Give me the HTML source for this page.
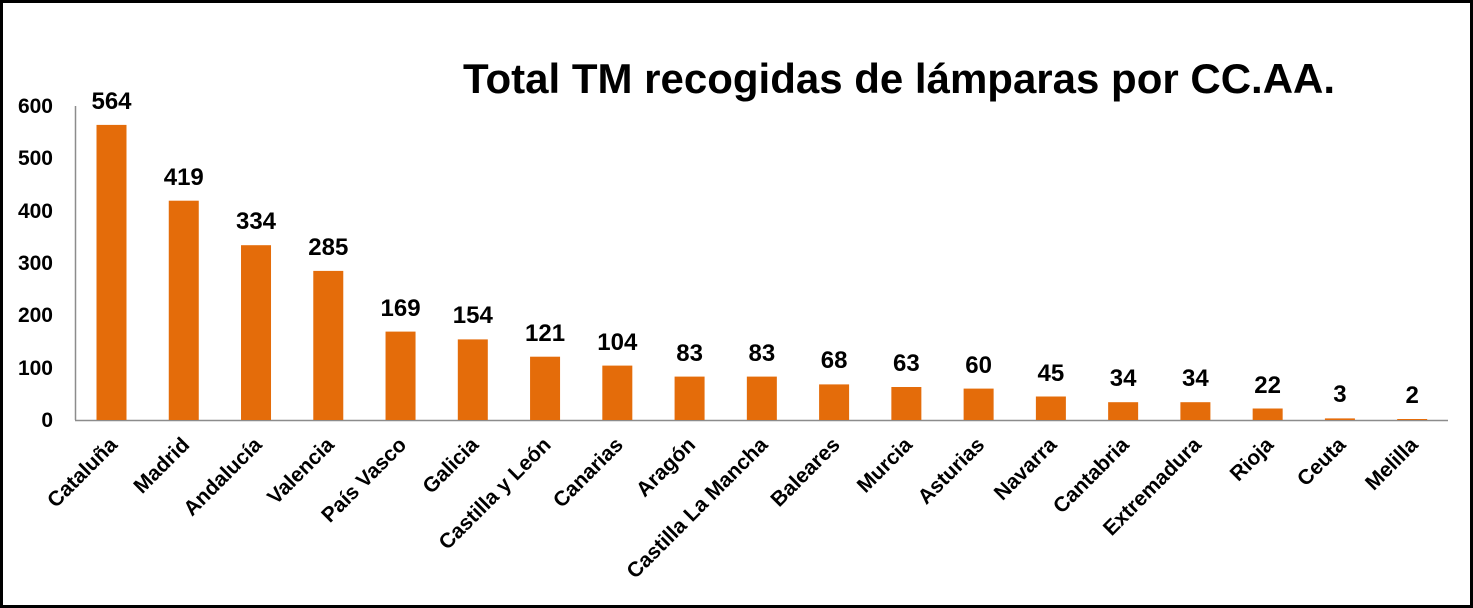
<!DOCTYPE html>
<html><head><meta charset="utf-8"><style>
html,body{margin:0;padding:0;background:#fff;}
svg{display:block;}
text{font-family:"Liberation Sans",sans-serif;font-weight:bold;}
</style></head><body>
<svg width="1473" height="608" viewBox="0 0 1473 608" xmlns="http://www.w3.org/2000/svg">
<rect x="1.5" y="1.5" width="1470" height="605" fill="#fff" stroke="#000" stroke-width="3"/>
<text x="899" y="93" font-size="42" text-anchor="middle" fill="#000">Total TM recogidas de lámparas por CC.AA.</text>
<line x1="75.5" y1="106" x2="75.5" y2="420" stroke="#8c8c8c" stroke-width="1.5"/>
<line x1="75" y1="420.5" x2="1448" y2="420.5" stroke="#8c8c8c" stroke-width="1.5"/>
<g font-size="21" text-anchor="end" fill="#000">
<text x="53" y="427">0</text><text x="53" y="375">100</text><text x="53" y="322">200</text>
<text x="53" y="270">300</text><text x="53" y="218">400</text><text x="53" y="165">500</text><text x="53" y="113">600</text>
</g>
<g fill="#e46c0a">
<rect x="96.5" y="124.9" width="30" height="295.1"/>
<rect x="168.76" y="200.7" width="30" height="219.3"/>
<rect x="241.02" y="245.2" width="30" height="174.8"/>
<rect x="313.28" y="270.9" width="30" height="149.1"/>
<rect x="385.54" y="331.6" width="30" height="88.4"/>
<rect x="457.8" y="339.4" width="30" height="80.6"/>
<rect x="530.06" y="356.7" width="30" height="63.3"/>
<rect x="602.32" y="365.6" width="30" height="54.4"/>
<rect x="674.58" y="376.6" width="30" height="43.4"/>
<rect x="746.84" y="376.6" width="30" height="43.4"/>
<rect x="819.1" y="384.4" width="30" height="35.6"/>
<rect x="891.36" y="387" width="30" height="33"/>
<rect x="963.62" y="388.6" width="30" height="31.4"/>
<rect x="1035.88" y="396.5" width="30" height="23.5"/>
<rect x="1108.14" y="402.2" width="30" height="17.8"/>
<rect x="1180.4" y="402.2" width="30" height="17.8"/>
<rect x="1252.66" y="408.5" width="30" height="11.5"/>
<rect x="1324.92" y="418.4" width="30" height="1.6"/>
<rect x="1397.18" y="419" width="30" height="1"/>
</g>
<g font-size="24" text-anchor="middle" fill="#000">
<text x="111.5" y="109">564</text>
<text x="183.76" y="185">419</text>
<text x="256.02" y="229">334</text>
<text x="328.28" y="255">285</text>
<text x="400.54" y="316">169</text>
<text x="472.8" y="323">154</text>
<text x="545.06" y="341">121</text>
<text x="617.32" y="350">104</text>
<text x="689.58" y="361">83</text>
<text x="761.84" y="361">83</text>
<text x="834.1" y="368">68</text>
<text x="906.36" y="371">63</text>
<text x="978.62" y="373">60</text>
<text x="1050.88" y="381">45</text>
<text x="1123.14" y="386">34</text>
<text x="1195.4" y="386">34</text>
<text x="1267.66" y="393">22</text>
<text x="1339.92" y="402">3</text>
<text x="1412.18" y="403">2</text>
</g>
<g font-size="21" text-anchor="end" fill="#000">
<text transform="translate(118.5,446) rotate(-45)">Cataluña</text>
<text transform="translate(190.76,446) rotate(-45)">Madrid</text>
<text transform="translate(263.02,446) rotate(-45)">Andalucía</text>
<text transform="translate(335.28,446) rotate(-45)">Valencia</text>
<text transform="translate(407.54,446) rotate(-45)">País Vasco</text>
<text transform="translate(479.8,446) rotate(-45)">Galicia</text>
<text transform="translate(552.06,446) rotate(-45)">Castilla y León</text>
<text transform="translate(624.32,446) rotate(-45)">Canarias</text>
<text transform="translate(696.58,446) rotate(-45)">Aragón</text>
<text transform="translate(768.84,446) rotate(-45)">Castilla La Mancha</text>
<text transform="translate(841.1,446) rotate(-45)">Baleares</text>
<text transform="translate(913.36,446) rotate(-45)">Murcia</text>
<text transform="translate(985.62,446) rotate(-45)">Asturias</text>
<text transform="translate(1057.88,446) rotate(-45)">Navarra</text>
<text transform="translate(1130.14,446) rotate(-45)">Cantabria</text>
<text transform="translate(1202.4,446) rotate(-45)">Extremadura</text>
<text transform="translate(1274.66,446) rotate(-45)">Rioja</text>
<text transform="translate(1346.92,446) rotate(-45)">Ceuta</text>
<text transform="translate(1419.18,446) rotate(-45)">Melilla</text>
</g>
</svg>
</body></html>
